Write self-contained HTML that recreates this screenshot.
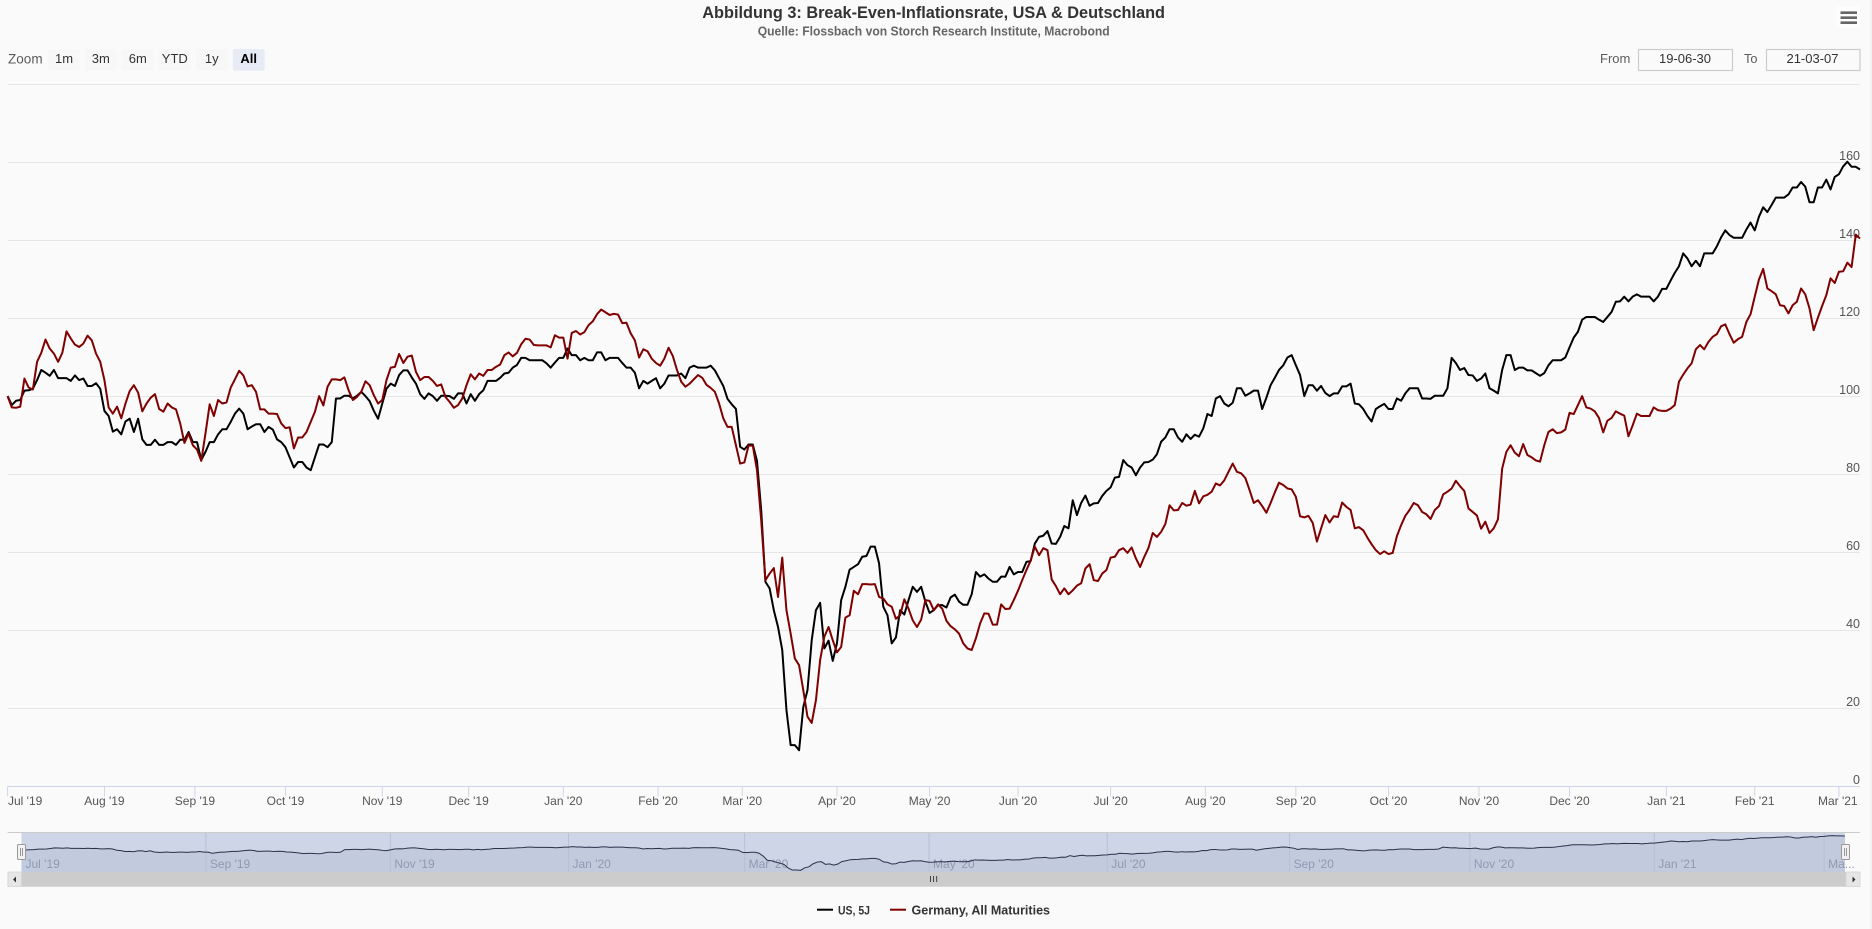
<!DOCTYPE html>
<html lang="de">
<head>
<meta charset="utf-8">
<title>Break-Even-Inflationsrate, USA &amp; Deutschland</title>
<style>
html,body{margin:0;padding:0;background:#fafafa;width:1872px;height:929px;overflow:hidden}
svg{display:block;font-family:"Liberation Sans",sans-serif}
</style>
</head>
<body>
<svg id="chart" xmlns="http://www.w3.org/2000/svg" width="1872" height="929" viewBox="0 0 1872 929">
  <rect x="0" y="0" width="1872" height="929" fill="#fafafa"/>
  <rect x="1870" y="0" width="2" height="929" fill="#f2f2f2"/>

  <text x="702.3" y="18" font-size="17" font-weight="700" fill="#333" textLength="462.7" lengthAdjust="spacingAndGlyphs">Abbildung 3: Break-Even-Inflationsrate, USA &amp; Deutschland</text>
  <text x="757.7" y="35.5" font-size="12.5" font-weight="700" fill="#666" textLength="352" lengthAdjust="spacingAndGlyphs">Quelle: Flossbach von Storch Research Institute, Macrobond</text>

  <g>
    <rect x="1836.5" y="6.5" width="23.5" height="21.5" fill="#fdfdfd"/>
    <path d="M1840.5 12.7H1857M1840.5 17.7H1857M1840.5 22.7H1857" stroke="#666" stroke-width="2.6" fill="none"/>
  </g>

  <g font-size="13">
    <text x="8" y="63.5" fill="#5c5c5c" font-size="13.5" textLength="34.6" lengthAdjust="spacingAndGlyphs">Zoom</text>
    <g><rect x="48.5" y="49" width="31" height="21.7" rx="2" fill="#f7f7f7"/><text x="64" y="63" text-anchor="middle" fill="#333">1m</text></g>
    <g><rect x="85" y="49" width="31.5" height="21.7" rx="2" fill="#f7f7f7"/><text x="100.8" y="63" text-anchor="middle" fill="#333">3m</text></g>
    <g><rect x="122" y="49" width="31.5" height="21.7" rx="2" fill="#f7f7f7"/><text x="137.8" y="63" text-anchor="middle" fill="#333">6m</text></g>
    <g><rect x="159" y="49" width="31.5" height="21.7" rx="2" fill="#f7f7f7"/><text x="174.8" y="63" text-anchor="middle" fill="#333">YTD</text></g>
    <g><rect x="196" y="49" width="31.5" height="21.7" rx="2" fill="#f7f7f7"/><text x="211.8" y="63" text-anchor="middle" fill="#333">1y</text></g>
    <g><rect x="232.8" y="49" width="31.8" height="21.7" rx="2" fill="#e6ebf5"/><text x="248.7" y="63" text-anchor="middle" fill="#000" font-weight="700">All</text></g>

    <text x="1600" y="63" fill="#5c5c5c" textLength="30.4" lengthAdjust="spacingAndGlyphs">From</text>
    <g><rect x="1638.5" y="49.5" width="94" height="21" fill="#fafafa" stroke="#ccc" stroke-width="1.2"/><text x="1685" y="63" text-anchor="middle" fill="#333">19-06-30</text></g>
    <text x="1744" y="63" fill="#5c5c5c" textLength="13.5" lengthAdjust="spacingAndGlyphs">To</text>
    <g><rect x="1766.5" y="49.5" width="93.5" height="21" fill="#fafafa" stroke="#ccc" stroke-width="1.2"/><text x="1812.5" y="63" text-anchor="middle" fill="#333">21-03-07</text></g>
  </g>

  <g id="grid"></g>
  <g id="xaxis"></g>
  <g id="yaxis"></g>
  <g id="series"></g>

  <g id="navigator"></g>

  <g>
    <rect x="7.6" y="872" width="1852.4" height="14.7" fill="#cccccc"/>
    <rect x="8" y="872" width="13.5" height="14.5" fill="#e6e6e6" stroke="#d4d4d4" stroke-width="0.8"/>
    <path d="M13 879.5L16 876.5V882.5Z" fill="#333"/>
    <rect x="1846" y="872" width="14" height="14.5" fill="#e6e6e6" stroke="#d4d4d4" stroke-width="0.8"/>
    <path d="M1855.5 879.5L1852.5 876.5V882.5Z" fill="#333"/>
    <path d="M930.5 876V882M933.6 876V882M936.7 876V882" stroke="#333" stroke-width="0.9" fill="none"/>
  </g>

  <g>
    <g>
      <line x1="817" y1="909.7" x2="833" y2="909.7" stroke="#000" stroke-width="2"/>
      <text x="838" y="914.5" font-size="12" fill="#333" font-weight="700" textLength="32" lengthAdjust="spacingAndGlyphs">US, 5J</text>
    </g>
    <g>
      <line x1="890" y1="909.7" x2="906" y2="909.7" stroke="#800000" stroke-width="2"/>
      <text x="911.5" y="914.5" font-size="13" fill="#333" font-weight="700" textLength="138.5" lengthAdjust="spacingAndGlyphs">Germany, All Maturities</text>
    </g>
  </g>
</svg>

<script>
const usSeries = [
100.1,97.8,98.9,99.1,101.5,101.6,102,104.2,106.8,106.1,
105.3,106.8,104.7,104.7,104.7,104,105.4,104.2,104.6,102.7,
102.7,103.4,102,96.3,95,91,91.6,90.3,93.6,94.3,
90.9,94.3,89,87.6,87.6,88.9,87.6,87.6,88.3,88.3,
87.6,88.9,88.9,90.9,88.3,88.3,83.7,85.8,88.3,88.3,
90.3,91.6,91.6,93.5,95.6,96.9,95.6,91.6,92.3,92.9,
92.9,90.9,92.2,91.5,89,88.3,87,84.4,81.8,83.2,
83.2,81.8,81.1,84.4,87.7,87.7,87,88.3,99.5,99.5,
100.2,100.2,99.5,100.2,101.2,100.1,98.8,96.3,94.3,98.2,
102,103.3,102.7,105.5,
106.7,106.7,104.9,103.3,100.6,99.4,100.8,100.1,98.9,100.2,
100.2,100.1,99.4,100.8,100.8,98.2,100.6,98.9,100.6,101.6,
104,104,104,104.8,105.9,106.1,107.4,108.1,109.9,109.9,
109.3,109.3,109.3,109.3,108.5,107.4,108.7,109.9,109.9,112.3,
110.6,110.6,109.3,109.9,109.3,109.3,111.3,111.3,109.3,109.9,
109.9,109.9,108.6,107.4,107.4,106.1,102.1,104,103.3,104,
104.7,102.1,103.3,105.4,105.4,105.4,105.9,104.7,107.4,107.9,
107.4,107.4,107.4,107.9,106.7,104.7,102.7,99.4,98,96.8,
87.1,86.4,87.7,87.7,83.5,
70.9,52.5,50.8,45.2,40.9,35,19.6,10.6,10.6,9.3,
20.4,24.7,37.5,45.2,47.1,35.4,37.4,32.2,36.7,47.8,
51.2,55.6,56.3,57,58.9,59.1,61.5,61.5,57.2,46.1,
43.9,36.7,38.2,45.2,44.1,47.8,51.2,49.9,51.2,47.4,
44.5,45.2,46.5,46.5,45.9,48.5,49.2,47.4,46.6,46.6,
49.3,55,53.8,54.4,53.3,52.5,52.5,53.8,53.8,56.3,
54.4,55,55,57.6,57.8,62.3,64,64.3,65.5,62.3,
62.2,64,66.8,66.2,73.4,69.6,72.7,74.6,72,72.6,
72.7,
74.5,75.8,76.7,79.2,79.4,83.7,82.4,81.8,79.8,81.8,
83.1,83.2,83.8,85.2,88.4,89.5,91.6,91.6,89.5,88.4,
90.3,89.1,90.2,89.7,91.8,95.5,95,99.5,100.1,98.2,
97.5,98.4,102.1,102.1,100.2,100.8,101.5,101.5,96.8,99.7,
102.9,104.8,106.8,108,110,110.6,108,105.5,100.1,102.9,
102.9,101.5,102.7,100.9,100.1,100.8,100.8,102.6,102.6,103.3,
98.2,98,96.8,95,93.6,96.8,97.5,98.1,96.8,96.8,
99.5,98.9,100.8,102.1,102.1,102.1,99.5,99.5,
99.4,100.2,100.2,100.2,102.1,109.9,108.6,106.8,107.3,105.5,
105.4,104,104.6,105.9,102.1,101.5,100.8,106.8,110.6,110.6,
106.8,107.4,107.4,106.7,106.7,106,105.3,106,108,109.3,
109.3,109.3,110,112.6,115.1,116.6,119.7,120.4,120.4,120.4,
119.7,119.1,120.4,121.7,124.3,124.4,125.6,124.4,125.6,126.2,
125.6,125.6,125.6,124.4,125.6,127.6,127.6,129.7,131.7,133.4,
136.7,135.4,133.4,134.8,133.4,136.7,136.7,136.7,138.5,140.8,
142.6,141.4,140.7,140.7,140.7,142.8,144.6,142.6,146.1,148.5,
147.3,149.1,151,151,151,151.8,153.6,153.6,155,153.8,
149.8,149.8,153.6,153.6,155.6,153.1,156.3,157,159,160.2,
158.9,158.9,158.2
];
const germanySeries = [
100.1,97.2,97.1,97.4,104.6,102.3,101.8,108.9,111.2,114.6,
112.3,111,108.9,111.2,116.7,114.9,113.3,112.7,113.6,115.6,
114.4,111,108.9,104.2,97.2,95.6,97.4,94.4,98.2,101.4,
102.9,101,96.2,98.2,99.7,100.6,96.8,96.1,98.2,97.2,
96.7,93.1,88.1,90.5,87.5,86.4,83.5,90.5,98,95,
99.1,98.2,98.5,102.3,104.4,106.6,105.4,102.6,102.9,101.2,
96.7,96.7,95.6,95.6,95.5,93.1,91.9,92.1,86.7,89.5,
89.5,90.9,93.5,96.1,100.1,97.7,102.5,104.4,104.4,104.2,
104.9,101.6,99.1,99.9,101.2,103.9,102.9,100.3,98.2,99.1,
104.2,107.4,107.6,110.9,
108.6,110.2,110.5,106.3,104.2,105,105,104,102.7,103.1,
99.9,98.6,97.1,97.8,99.5,102.9,105.7,104.4,105.9,105.3,
106.8,106.8,107.6,108.2,110.6,111.3,110.3,111.2,113.4,114.8,
114.6,113.2,113.1,113.1,113.1,112.6,115.7,115.1,115.1,109.7,
116.3,116.8,115.9,116.5,118.3,119.3,121.1,122.3,121.6,120.9,
121.2,121,118.8,118.9,116.2,114.4,110,112.1,111.6,109.7,
108.6,107.9,109.7,112.5,110.4,106.8,103.8,102.5,103.3,104.4,
105.5,104.8,103,102.2,101.2,98.2,94.4,92.2,92.2,87.5,
82.8,83.1,87.4,87.4,81.1,
68.3,52.9,54.6,56,48.6,58.7,45.2,39.2,32.8,31.1,
24.7,17.9,16.3,22.1,32.4,38.4,40.9,37.5,34.4,35.8,
43.3,43.9,50.2,49.3,51.9,51.9,51.8,51.9,48.6,48.2,
46.7,46.1,43,43.9,48,45.6,42.6,40.9,42.8,47.8,
47.6,45.2,46.7,45.6,42.5,41.1,40.3,39.2,36.7,35.4,
35,38,41.8,44.4,44.3,41.5,41.5,46.7,45.5,45.6,
47.8,50.2,52.9,55.5,57.9,61.5,59.3,61.1,60.6,53.1,
51.4,49.3,50.8,49.3,50.3,51.5,52.1,55.9,57,52.9,
52.7,
54.6,55.5,58.7,58.9,60.6,61.1,59.9,61.3,58.5,56.3,
58.9,61.2,65,64,65.3,67.3,72.1,70.8,70.9,72.7,
72,72.3,75.8,72.6,74.4,74.8,75.6,77.7,77.2,78.5,
80.7,82.8,80.7,80.3,79.1,76,72.7,73.4,71.9,70.2,
72.7,75.4,77.9,77.3,76.4,76.2,74.3,69.3,69,69.4,
67.6,62.8,66.2,69.6,67.7,69.3,69.1,72.8,71.7,70.9,
66.2,66.5,65.7,63.8,62.1,60.6,59.6,60.3,59.6,59.9,
64.2,67,69.4,70.9,72.7,72.1,70.4,69.8,68.6,
70.9,71.9,74.9,75.6,76.4,78.4,77,75.8,71.3,70.4,
69.5,66.1,67.9,65,66.2,68.5,81.5,85.8,87.5,85.6,
84.7,87.8,85,84.4,83.6,83.3,87.5,90.9,91.6,90.6,
90.8,91.5,
95.8,95.5,97.8,100.1,97.2,96.9,96.2,94.5,90.8,93.8,
94.5,96.2,95.6,95.1,89.8,92.6,95.6,95,95,95,
97.2,96.5,96.3,96.3,96.9,97.8,103.8,105.6,107.2,108.5,
112.1,113.2,112.1,114,115.3,116,118,118.5,116,113.8,
114.7,115.3,119.1,121.1,125.6,130,132.7,127.7,127,126.2,
123.4,123.2,121.3,123.4,124.3,127.7,126.2,122.6,117,120.2,
123.2,126,130.3,129.1,132,132.1,134.3,133.2,141.5,140.5
];
const yTicks = [0,20,40,60,80,100,120,140,160,180];
const yTickLabels = ['0','20','40','60','80','100','120','140','160',''];
const tickDates = ['2019-07-01','2019-08-01','2019-09-01','2019-10-01','2019-11-01','2019-12-01','2020-01-01','2020-02-01','2020-03-01','2020-04-01','2020-05-01','2020-06-01','2020-07-01','2020-08-01','2020-09-01','2020-10-01','2020-11-01','2020-12-01','2021-01-01','2021-02-01','2021-03-01'];
const tickLabels = ["Jul '19","Aug '19","Sep '19","Oct '19","Nov '19","Dec '19","Jan '20","Feb '20","Mar '20","Apr '20","May '20","Jun '20","Jul '20","Aug '20","Sep '20","Oct '20","Nov '20","Dec '20","Jan '21","Feb '21","Mar '21"];
const navDates = ['2019-09-01','2019-11-01','2020-01-01','2020-03-01','2020-05-01','2020-07-01','2020-09-01','2020-11-01','2021-01-01','2021-03-01'];
const navLabels = ["Sep '19","Nov '19","Jan '20","Mar '20","May '20","Jul '20","Sep '20","Nov '20","Jan '21","Ma..."];

const NS = 'http://www.w3.org/2000/svg';
const xLeft = 7.6, xRight = 1860, xStep = 4.21;
const x = i => xLeft + i * xStep;
const y = v => 786.5 - v * 3.9;
const navX = i => 21.5 + i * 4.144;
const navY = v => 872.5 - v * 0.2304;

function dateIndex(s) {
  const start = Date.UTC(2019, 6, 1);
  const p = s.split('-').map(Number);
  const end = Date.UTC(p[0], p[1] - 1, p[2]);
  let n = 0;
  for (let t = start; t < end; t += 86400000) {
    const d = new Date(t).getUTCDay();
    if (d !== 0 && d !== 6) n++;
  }
  const wd = new Date(end).getUTCDay();
  return (wd === 0 || wd === 6) ? n - 0.5 : n;
}
function mk(parent, tag, attrs, text) {
  const el = document.createElementNS(NS, tag);
  for (const k in attrs) el.setAttribute(k, attrs[k]);
  if (text !== undefined) el.textContent = text;
  parent.appendChild(el);
  return el;
}
function linePath(values, fx, fy) {
  return values.map((v, i) => (i ? 'L' : 'M') + fx(i).toFixed(2) + ' ' + fy(v).toFixed(2)).join('');
}

const grid = document.getElementById('grid');
const yaxis = document.getElementById('yaxis');
const xaxis = document.getElementById('xaxis');
const seriesG = document.getElementById('series');
const nav = document.getElementById('navigator');

yTicks.forEach((v, k) => {
  if (v !== 0) {
    const gl = mk(grid, 'line', {x1: 8, x2: xRight, y1: y(v), y2: y(v), stroke: '#e6e6e6', 'stroke-width': 1});
    
    
  }
  if (yTickLabels[k]) {
    const t = mk(yaxis, 'text', {x: xRight, y: y(v) - 2.5, 'text-anchor': 'end', 'font-size': 12.5, fill: '#555'}, yTickLabels[k]);
    
    
  }
});

const axisLine = mk(xaxis, 'line', {x1: 7.6, x2: xRight, y1: y(0), y2: y(0), stroke: '#ccd6eb', 'stroke-width': 1});



tickDates.forEach((d, k) => {
  const px = x(dateIndex(d));
  const tm = mk(xaxis, 'line', {x1: px, x2: px, y1: y(0), y2: y(0) + 10, stroke: '#ccd6eb', 'stroke-width': 1});
  
  
  let anchor = 'middle', tx = px;
  if (k === 0) { anchor = 'start'; tx = 8; }
  if (k === tickDates.length - 1) { anchor = 'end'; tx = 1857.6; }
  const lb = mk(xaxis, 'text', {x: tx, y: 805, 'text-anchor': anchor, 'font-size': 12, fill: '#555'}, tickLabels[k]);
  
  
});

const usLine = mk(seriesG, 'path', {d: linePath(usSeries, x, y), fill: 'none', stroke: '#000', 'stroke-width': 2, 'stroke-linejoin': 'round'});


const deLine = mk(seriesG, 'path', {d: linePath(germanySeries, x, y), fill: 'none', stroke: '#800000', 'stroke-width': 2, 'stroke-linejoin': 'round'});



const navBand = mk(nav, 'rect', {x: 21.5, y: 832.5, width: 1823.5, height: 39.5, fill: '#cdd5e6'});



const navTop = mk(nav, 'line', {x1: 7.6, x2: xRight, y1: 832.5, y2: 832.5, stroke: '#cccccc', 'stroke-width': 1});



const navLastX = navX(usSeries.length - 1);
const navArea = mk(nav, 'path', {d: linePath(usSeries, navX, navY) + 'L' + navLastX.toFixed(2) + ' 872L21.5 872Z', fill: '#c2cadd'});



navDates.forEach((d, k) => {
  const px = navX(dateIndex(d));
  const nt = mk(nav, 'line', {x1: px, x2: px, y1: 833, y2: 872, stroke: '#b7c1d6', 'stroke-width': 1});
  
  
  const nl = mk(nav, 'text', {x: px + 4, y: 868, 'font-size': 12, fill: '#8f99b3'}, navLabels[k]);
  
  
});
const navFirst = mk(nav, 'text', {x: 25.5, y: 868, 'font-size': 12, fill: '#8f99b3'}, "Jul '19");



const navLine = mk(nav, 'path', {d: linePath(usSeries, navX, navY), fill: 'none', stroke: '#2b3048', 'stroke-width': 1});



const leftHandle = mk(nav, 'rect', {x: 17.5, y: 844.5, width: 8, height: 15, rx: 1, fill: '#f2f2f2', stroke: '#999', 'stroke-width': 1});


const leftGrip = mk(nav, 'path', {d: 'M20.5 848V856M22.5 848V856', stroke: '#999', 'stroke-width': 1, fill: 'none'});


const rightHandle = mk(nav, 'rect', {x: 1841.5, y: 844.5, width: 8, height: 15, rx: 1, fill: '#f2f2f2', stroke: '#999', 'stroke-width': 1});


const rightGrip = mk(nav, 'path', {d: 'M1844.5 848V856M1846.5 848V856', stroke: '#999', 'stroke-width': 1, fill: 'none'});


</script>
</body>
</html>
